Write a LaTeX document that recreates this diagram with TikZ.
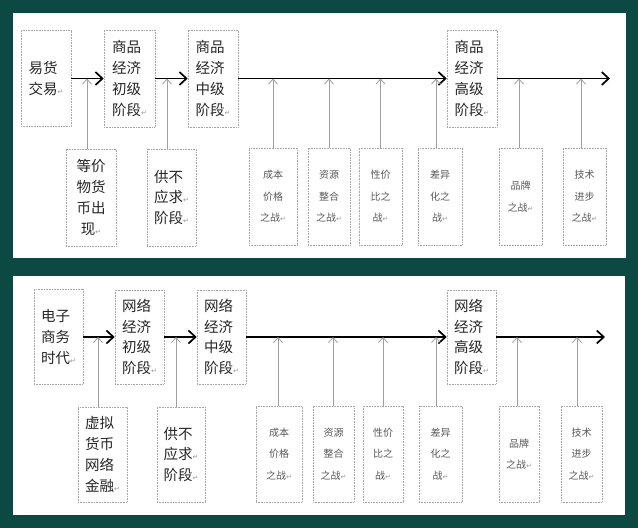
\documentclass[tikz,border=0pt]{standalone}
\usepackage{fontspec}
\setmainfont{Noto Sans CJK SC}
\newfontfamily\symfont{DejaVu Sans}
\usetikzlibrary{arrows.meta}
\newcommand{\rt}{{\symfont\fontsize{7}{7}\selectfont\color{gray!80}↵}}
\tikzset{
  stagebox/.style={draw=gray!70, densely dotted, line width=0.6pt, text=black!85,
    font=\fontsize{14.5}{20.7}\selectfont, align=left, inner sep=0pt,
    minimum width=50pt, minimum height=97pt},
  warbox/.style={stagebox, font=\fontsize{10}{21.5}\selectfont, text=black!65, align=center},
  flow/.style={-{Straight Barb[length=7pt,width=13pt,line width=1.7pt]}, line width=1.7pt, black},
  feed/.style={-{Straight Barb[length=5pt,width=9pt,line width=0.8pt]}, line width=0.8pt, gray!75}
}
\begin{document}
\begin{tikzpicture}[x=1pt, y=-1pt]
\definecolor{bg}{HTML}{0B4942}
\fill[bg] (0,0) rectangle (638,528);
\fill[white] (13,13) rectangle (626,258);
\fill[white] (13,276) rectangle (625,515);
% top panel
\node[stagebox, minimum width=50pt, minimum height=96pt] (barter) at (46,78.5) {易货\\交易\rt};
\node[stagebox, minimum width=51pt] (p1) at (129.5,78.5) {商品\\经济\\初级\\阶段\rt};
\node[stagebox] (p2) at (213,78.5) {商品\\经济\\中级\\阶段\rt};
\node[stagebox] (p3) at (472,78.5) {商品\\经济\\高级\\阶段\rt};
\coordinate (tend) at (610,78.5);
\node[stagebox, align=center] (s1) at (91,197.5) {等价\\物货\\币出\\现\rt};
\node[stagebox, minimum width=49pt] (s2) at (171.5,197.5) {供不\\应求\rt\\阶段\rt};
\node[warbox, minimum width=48pt] (w1) at (273,196.5) {成本\\价格\\之战\rt};
\node[warbox, minimum width=42pt] (w2) at (329,196.5) {资源\\整合\\之战\rt};
\node[warbox, minimum width=43pt] (w3) at (380.5,196.5) {性价\\比之\\战\rt};
\node[warbox, minimum width=44pt] (w4) at (440,196.5) {差异\\化之\\战\rt};
\node[warbox, minimum width=43pt] (w5) at (520.5,196.5) {品牌\\之战\rt};
\node[warbox, minimum width=43pt] (w6) at (584.5,196.5) {技术\\进步\\之战\rt};
\draw[flow] (barter) -- (p1);
\draw[flow] (p1) -- (p2);
\draw[flow] (p2) -- (p3);
\draw[flow] (p3) -- (tend);
\foreach \n/\d in {s1/-4, s2/-4.5, w1/0, w2/0, w3/0, w4/-4, w5/-1.5, w6/-3.5}{
  \path (\n.north) ++(\d pt,0) coordinate (f\n);
  \draw[feed] (f\n) -- (f\n |- p1.west);
}
% bottom panel
\node[stagebox, minimum width=49pt, minimum height=95pt] (ec) at (58.5,337) {电子\\商务\\时代\rt};
\node[stagebox, minimum width=49pt, minimum height=94pt] (q1) at (139.5,337) {网络\\经济\\初级\\阶段\rt};
\node[stagebox, minimum width=49pt, minimum height=94pt] (q2) at (221.5,337) {网络\\经济\\中级\\阶段\rt};
\node[stagebox, minimum width=49pt, minimum height=94pt] (q3) at (471.5,337) {网络\\经济\\高级\\阶段\rt};
\coordinate (bend) at (605,337);
\node[stagebox, minimum width=49pt, minimum height=95pt] (t1) at (102.5,454.5) {虚拟\\货币\\网络\\金融\rt};
\node[stagebox, minimum width=48pt, minimum height=95pt] (t2) at (181,454.5) {供不\\应求\rt\\阶段\rt};
\node[warbox, minimum width=46pt, minimum height=96pt] (v1) at (279,454) {成本\\价格\\之战\rt};
\node[warbox, minimum width=41pt, minimum height=96pt] (v2) at (333.5,454) {资源\\整合\\之战\rt};
\node[warbox, minimum width=40pt, minimum height=96pt] (v3) at (383,454) {性价\\比之\\战\rt};
\node[warbox, minimum width=43pt, minimum height=96pt] (v4) at (440.5,454) {差异\\化之\\战\rt};
\node[warbox, minimum width=40pt, minimum height=96pt] (v5) at (519,454) {品牌\\之战\rt};
\node[warbox, minimum width=41pt, minimum height=96pt] (v6) at (581.5,454) {技术\\进步\\之战\rt};
\draw[flow] (ec) -- (q1);
\draw[flow] (q1) -- (q2);
\draw[flow] (q2) -- (q3);
\draw[flow] (q3) -- (bend);
\foreach \n/\d in {t1/-4.5, t2/-5, v1/-1, v2/-0.5, v3/0, v4/-4.5, v5/-2, v6/-4.5}{
  \path (\n.north) ++(\d pt,0) coordinate (f\n);
  \draw[feed] (f\n) -- (f\n |- q1.west);
}
\end{tikzpicture}
\end{document}
